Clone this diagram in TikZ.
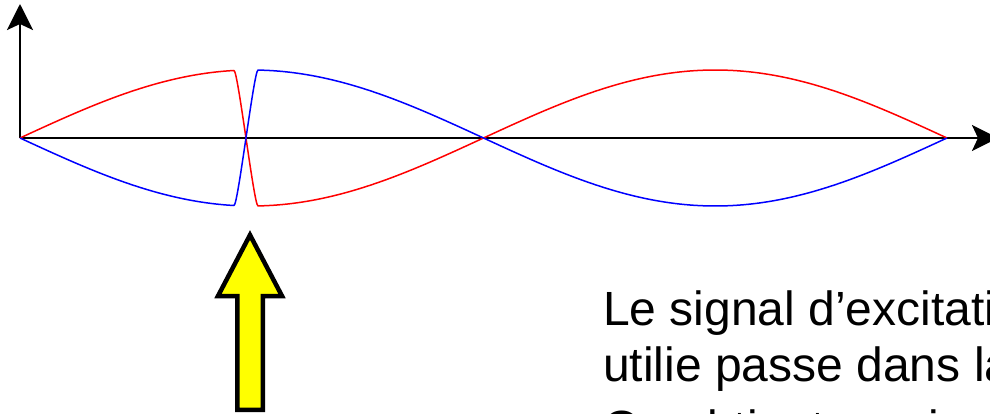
\documentclass[tikz,border=0pt]{standalone}
\usepackage{fontspec}
\setmainfont{Liberation Sans}
\usetikzlibrary{arrows.meta}
\definecolor{wred}{RGB}{255,0,0}
\definecolor{wblue}{RGB}{0,0,255}
\definecolor{ayellow}{RGB}{255,255,0}
\tikzset{
  axisline/.style={line width=2.9pt, black, -{Stealth[length=26pt,width=26pt,inset=6pt]}},
  wave/.style={line width=1.5pt, line join=round},
  bigarrow/.style={line width=4.5pt, draw=black, fill=ayellow, line join=miter},
  txt/.style={anchor=base west, inner sep=0pt, font=\fontsize{48}{56}\selectfont}
}
\begin{document}
\begin{tikzpicture}[x=1pt,y=-1pt]
\useasboundingbox (0,0) rectangle (990,414);
\clip (0,0) rectangle (990,414);
% axes
\coordinate (O) at (20,138);
\coordinate (yend) at (20,4);
\coordinate (xend) at (998,138);
\draw[axisline] (O) -- (yend);
\draw[axisline] (O) -- (xend);
% red wave
\draw[wave, wred]
  plot[domain=20:234, samples=60] (\x,{138-68*sin(0.388350*(\x-20))})
  .. controls (238,70.5) and (254,205.9) .. (258,205.9)
  -- plot[domain=258:947, samples=140] (\x,{138+68*sin(0.388350*(\x-20))});
% blue wave
\draw[wave, wblue]
  plot[domain=20:234, samples=60] (\x,{138+68*sin(0.388350*(\x-20))})
  .. controls (238,205.5) and (254,70.1) .. (258,70.1)
  -- plot[domain=258:947, samples=140] (\x,{138-68*sin(0.388350*(\x-20))});
% yellow arrow
\draw[bigarrow] (250,235) -- (282,296) -- (262.75,296) -- (262.75,409.75)
  -- (237.25,409.75) -- (237.25,296) -- (218,296) -- cycle;
% text
\node[txt] (t1) at (603,325.7) {Le signal d’excitation};
\node[txt] (t2) at (603,381.7) {utilie passe dans la};
\node[txt] (t3) at (603,444) {On obtient un signal};
\end{tikzpicture}
\end{document}
